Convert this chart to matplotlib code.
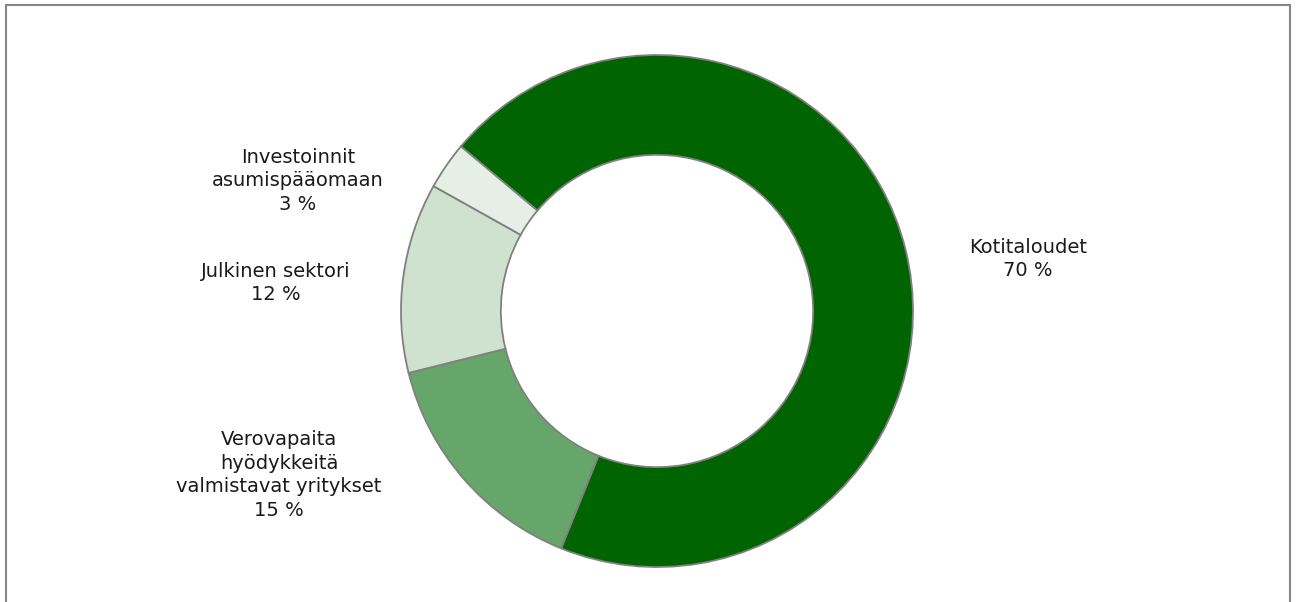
import matplotlib.pyplot as plt
from matplotlib.patches import Rectangle

# data
labels = ["Kotitaloudet", "Verovapaita\nhyödykkeitä\nvalmistavat yritykset",
          "Julkinen sektori", "Investoinnit\nasumispääomaan"]
values = [70, 15, 12, 3]
colors = ["#006400", "#66a66a", "#cfe2cf", "#e5efe5"]

# label positions (pixels, y from bottom)
label_pos = [(1028, 343), (279, 127), (276, 319), (298, 421)]

plt.rcParams["font.family"] = ["DejaVu Sans"]

W, H = 1296, 602
fig = plt.figure(figsize=(W / 100, H / 100), dpi=100)
ax = fig.add_axes([0, 0, 1, 1])

wedges, _ = ax.pie(
    values,
    colors=colors,
    startangle=140,
    counterclock=False,
    center=(657, H - 311),
    radius=256,
    wedgeprops=dict(width=256 * 0.39, edgecolor="#808080", linewidth=1.3),
    frame=True,
)
ax.set_xlim(0, W)
ax.set_ylim(0, H)
ax.set_aspect("equal")
ax.axis("off")

# frame
ax.add_patch(Rectangle((6, -5), 1284, H, fill=False,
                       edgecolor="#868686", linewidth=1.5))

for lab, v, (x, y) in zip(labels, values, label_pos):
    ax.text(x, y, "%s\n%d %%" % (lab, v), ha="center", va="center",
            fontsize=14, color="#1a1a1a", linespacing=1.32)

fig.savefig("out.png", dpi=100)
